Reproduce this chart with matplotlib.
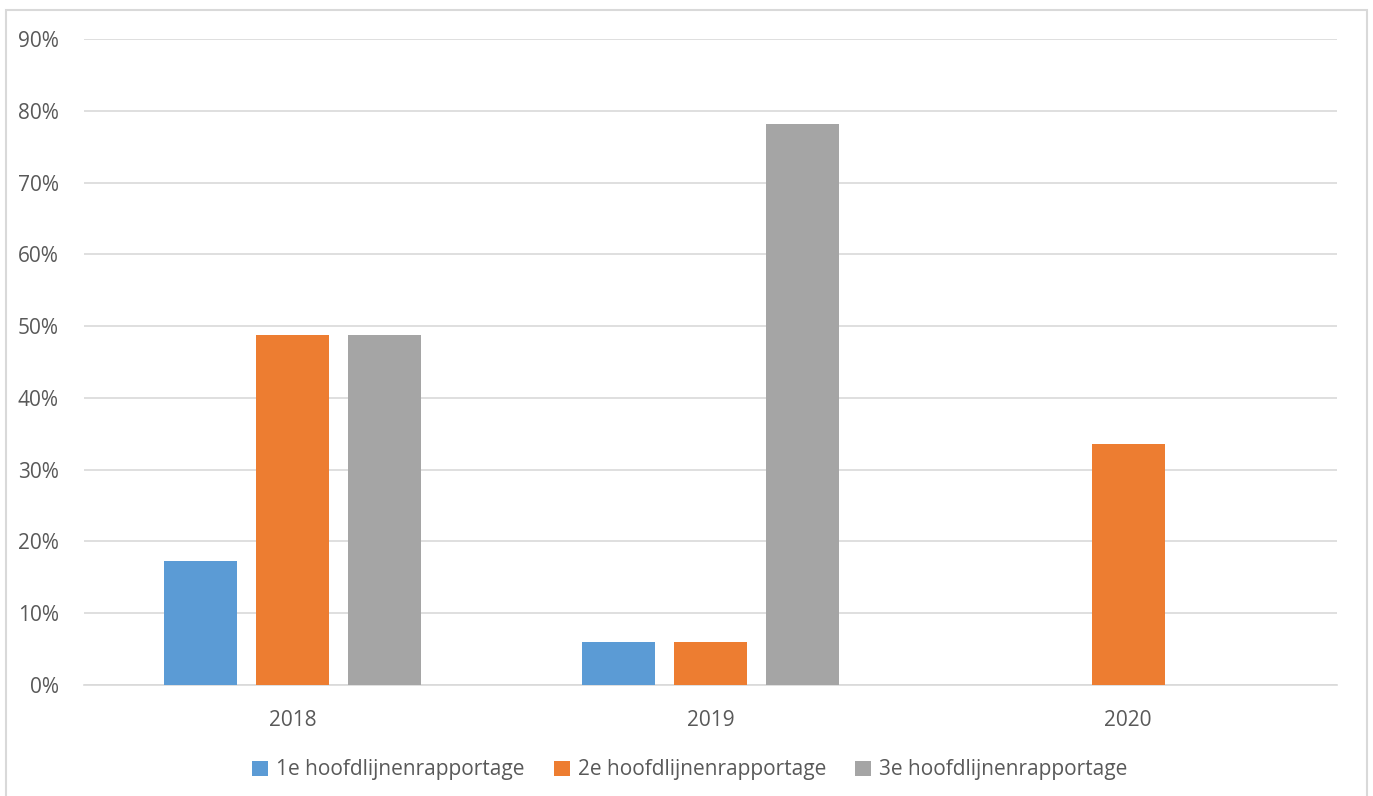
import matplotlib.pyplot as plt
import matplotlib.patches as patches
import numpy as np
from matplotlib.ticker import PercentFormatter

years = ['2018', '2019', '2020']
series = ['1e hoofdlijnenrapportage', '2e hoofdlijnenrapportage', '3e hoofdlijnenrapportage']
first = [0.173, 0.060, 0.0]
second = [0.487, 0.060, 0.336]
third = [0.487, 0.781, 0.0]
colors = ['#5B9BD5', '#ED7D31', '#A5A5A5']

plt.rcParams['font.family'] = ['Open Sans', 'DejaVu Sans']
W, H = 1373, 796
fig = plt.figure(figsize=(W / 100, H / 100), dpi=100)
ax = fig.add_axes([84 / W, 1 - 685 / H, (1337 - 84) / W, (685 - 39) / H])

# outer chart border
fig.patches.append(patches.Rectangle((6 / W, -0.01), (1367 - 6) / W, 1 - 10 / H + 0.01,
                                     transform=fig.transFigure, fill=False,
                                     edgecolor='#D9D9D9', linewidth=1.5))

x = np.arange(len(years))
width = 0.175
step = 0.22
for i, (vals, name) in enumerate(zip([first, second, third], series)):
    ax.bar(x + (i - 1) * step, vals, width, color=colors[i], label=name, zorder=3)

ax.set_xlim(-0.5, 2.5)
ax.set_ylim(0, 0.9)
ax.set_yticks(np.arange(0, 0.91, 0.1))
ax.yaxis.set_major_formatter(PercentFormatter(1.0, decimals=0))
ax.set_xticks(x)
ax.set_xticklabels(years)
ax.grid(axis='y', color='#D9D9D9', linewidth=1.2, zorder=0)
for s in ['top', 'right', 'left']:
    ax.spines[s].set_visible(False)
ax.spines['bottom'].set_color('#D9D9D9')
ax.spines['bottom'].set_linewidth(1.2)
ax.tick_params(axis='both', length=0, labelsize=15, colors='#595959')
ax.tick_params(axis='y', pad=18)
ax.tick_params(axis='x', pad=18)

leg = fig.legend(loc='center', bbox_to_anchor=(690 / W, 1 - 770 / H), ncol=3,
                 frameon=False, fontsize=15, handlelength=0.75, handleheight=0.75,
                 handletextpad=0.4, columnspacing=1.4)
for t in leg.get_texts():
    t.set_color('#595959')

fig.savefig('out.png', dpi=100)
